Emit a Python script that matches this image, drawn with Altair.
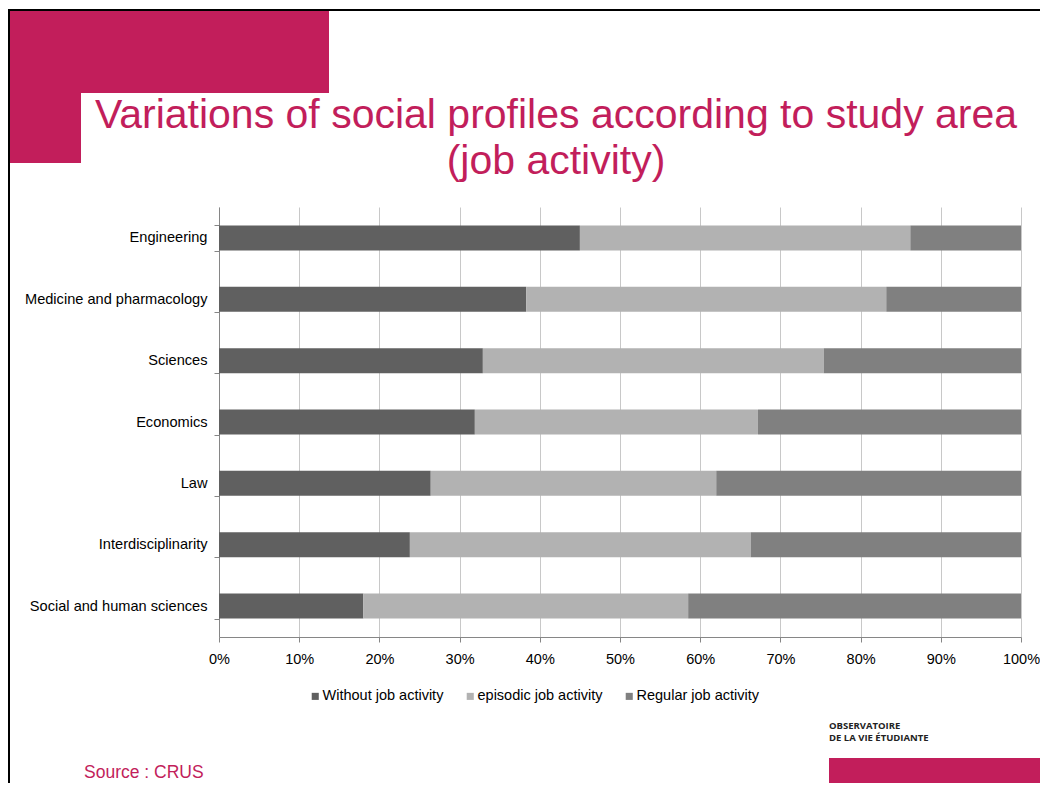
import altair as alt
import pandas as pd

categories = ["Engineering", "Medicine and pharmacology", "Sciences", "Economics",
              "Law", "Interdisciplinarity", "Social and human sciences"]
series = ["Without job activity", "episodic job activity", "Regular job activity"]
without_job = [45.0, 38.3, 32.9, 31.9, 26.4, 23.8, 18.0]
episodic_job = [41.2, 44.9, 42.5, 35.3, 35.6, 42.5, 40.5]
regular_job = [13.8, 16.8, 24.6, 32.8, 38.0, 33.7, 41.5]
colors = ["#606060", "#B2B2B2", "#808080"]

MAGENTA = "#C21E5B"
FONT = "Liberation Sans"

rows = []
for i, c in enumerate(categories):
    for k, (s, vals) in enumerate(zip(series, [without_job, episodic_job, regular_job])):
        rows.append({"category": c, "series": s, "value": vals[i], "order": k})
df = pd.DataFrame(rows)

# plot origin on page: (219, 207)
OX, OY = 219, 207

def px(x):
    return x - OX

def py(y):
    return y - OY

bars = alt.Chart(df).mark_bar(size=25).encode(
    y=alt.Y("category:N", sort=categories, title=None,
            scale=alt.Scale(paddingInner=0.59, paddingOuter=0.3),
            axis=alt.Axis(labelFont=FONT, labelFontSize=14.6, labelColor="#000000",
                          labelPadding=7, labelLimit=400, tickBand="extent", tickSize=5,
                          tickColor="#868686", domainColor="#868686",
                          grid=False)),
    x=alt.X("value:Q", stack="normalize", title=None,
            scale=alt.Scale(domain=[0, 1]),
            axis=alt.Axis(format=".0%", values=[i / 10 for i in range(11)],
                          labelFont=FONT, labelFontSize=14.5, labelColor="#000000",
                          labelPadding=10, labelFlush=False, tickSize=5,
                          tickColor="#868686",
                          domainColor="#868686", gridColor="#C8C8C8",
                          gridWidth=1)),
    color=alt.Color("series:N", sort=series,
                    scale=alt.Scale(domain=series, range=colors),
                    legend=alt.Legend(title=None, orient="none", direction="horizontal",
                                      legendX=px(308), legendY=py(689),
                                      symbolType="square", symbolSize=50,
                                      symbolStrokeWidth=0,
                                      labelFont=FONT, labelFontSize=14.5,
                                      labelColor="#000000", columnPadding=19,
                                      labelOffset=0)),
    order=alt.Order("order:Q"),
)

one = pd.DataFrame({"a": [0]})

rect1 = alt.Chart(one).mark_rect(color=MAGENTA).encode(
    x=alt.value(px(7)), x2=alt.value(px(329)), y=alt.value(py(10)), y2=alt.value(py(93)))
rect2 = alt.Chart(one).mark_rect(color=MAGENTA).encode(
    x=alt.value(px(7)), x2=alt.value(px(81)), y=alt.value(py(10)), y2=alt.value(py(163)))
rect3 = alt.Chart(one).mark_rect(color=MAGENTA).encode(
    x=alt.value(px(829)), x2=alt.value(px(1060)), y=alt.value(py(758)), y2=alt.value(py(800)))

frame_top = alt.Chart(one).mark_rule(color="#000000", strokeWidth=2).encode(
    x=alt.value(px(8)), x2=alt.value(px(1060)), y=alt.value(py(10)))
frame_left = alt.Chart(one).mark_rule(color="#000000", strokeWidth=2).encode(
    x=alt.value(px(9)), y=alt.value(py(9)), y2=alt.value(py(800)))

title1 = alt.Chart(one).mark_text(text="Variations of social profiles according to study area",
                                  font=FONT, fontSize=41, color=MAGENTA,
                                  align="center", baseline="alphabetic").encode(
    x=alt.value(px(556)), y=alt.value(py(128)))
title2 = alt.Chart(one).mark_text(text="(job activity)",
                                  font=FONT, fontSize=41, color=MAGENTA,
                                  align="center", baseline="alphabetic").encode(
    x=alt.value(px(556)), y=alt.value(py(174)))

source = alt.Chart(one).mark_text(text="Source : CRUS", font=FONT, fontSize=17.5,
                                  color=MAGENTA, align="left", baseline="alphabetic").encode(
    x=alt.value(px(84)), y=alt.value(py(778)))

logo1 = alt.Chart(one).mark_text(text="OBSERVATOIRE", font="Open Sans", fontSize=9.5,
                                 fontWeight="bold", color="#222222", align="left",
                                 baseline="alphabetic").encode(
    x=alt.value(px(829)), y=alt.value(py(729)))
logo2 = alt.Chart(one).mark_text(text="DE LA VIE ÉTUDIANTE", font="Open Sans", fontSize=9.5,
                                 fontWeight="bold", color="#222222", align="left",
                                 baseline="alphabetic").encode(
    x=alt.value(px(829)), y=alt.value(py(741)))

chart = alt.layer(
    rect1, rect2, rect3, frame_top, frame_left, title1, title2, source, logo1, logo2, bars
).properties(
    width=802, height=430,
    padding={"left": OX - 8, "top": OY - 8, "right": 1032 - 802 - (OX - 8),
             "bottom": 775 - 430 - (OY - 8)},
    autosize=alt.AutoSizeParams(type="none"),
    background="#FFFFFF",
).configure_view(strokeWidth=0)

chart.save("out.html", embed_options={"renderer": "svg", "actions": False})
